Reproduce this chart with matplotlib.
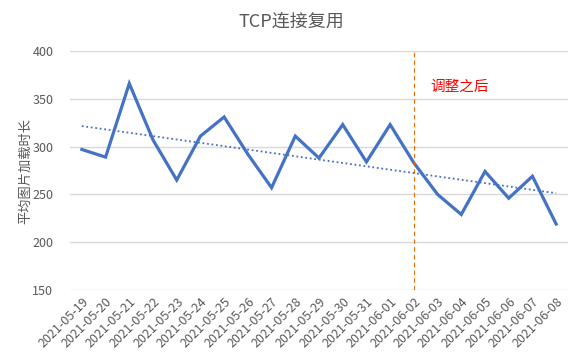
import numpy as np
import matplotlib.pyplot as plt

plt.rcParams['font.family'] = ['Noto Sans CJK SC', 'DejaVu Sans']

dates = ['2021-05-19', '2021-05-20', '2021-05-21', '2021-05-22', '2021-05-23',
         '2021-05-24', '2021-05-25', '2021-05-26', '2021-05-27', '2021-05-28',
         '2021-05-29', '2021-05-30', '2021-05-31', '2021-06-01', '2021-06-02',
         '2021-06-03', '2021-06-04', '2021-06-05', '2021-06-06', '2021-06-07',
         '2021-06-08']
load_time = [297, 289, 366, 307, 265, 311, 331, 292, 257, 311, 288,
             323, 284, 323, 283, 250, 229, 274, 246, 269, 219]
change_date = '2021-06-02'

gray = '#595959'
blue = '#4472C4'

fig = plt.figure(figsize=(5.82, 3.59), dpi=100)
ax = fig.add_axes([70 / 582, 1 - 290 / 359, 498 / 582, 239 / 359])

x = np.arange(len(dates))
ax.plot(x, load_time, color=blue, linewidth=2.3, solid_joinstyle='miter')

# linear trend line
k, b = np.polyfit(x, load_time, 1)
ax.plot(x, k * x + b, color=blue, linewidth=1.3, linestyle=(0, (1, 1.5)))

# marker for the change
xc = dates.index(change_date)
ax.axvline(xc, color='#E46C0A', linewidth=0.8, linestyle=(0, (4, 3)))
ax.text(xc + 0.7, 363, '调整之后', color='#FF0000', fontsize=10.5,
        va='center', ha='left')

ax.set_xlim(-0.5, len(dates) - 0.5)
ax.set_ylim(150, 400)
ax.set_yticks([150, 200, 250, 300, 350, 400])
ax.set_xticks(x)
ax.set_xticklabels(dates, rotation=45, ha='right', rotation_mode='anchor')
ax.tick_params(axis='both', length=0, colors=gray, labelsize=9)
ax.tick_params(axis='y', pad=12)
ax.tick_params(axis='x', pad=4)
ax.grid(axis='y', color='#D9D9D9', linewidth=1)
ax.set_axisbelow(True)
for s in ax.spines.values():
    s.set_visible(False)

ax.set_ylabel('平均图片加载时长', color=gray, fontsize=9.5)
ax.yaxis.set_label_coords(-38 / 498, 0.5)
fig.text(0.5, 1 - 22 / 359, 'TCP连接复用', ha='center', va='center',
         fontsize=13, color=gray)

fig.savefig('out.png', dpi=100)
